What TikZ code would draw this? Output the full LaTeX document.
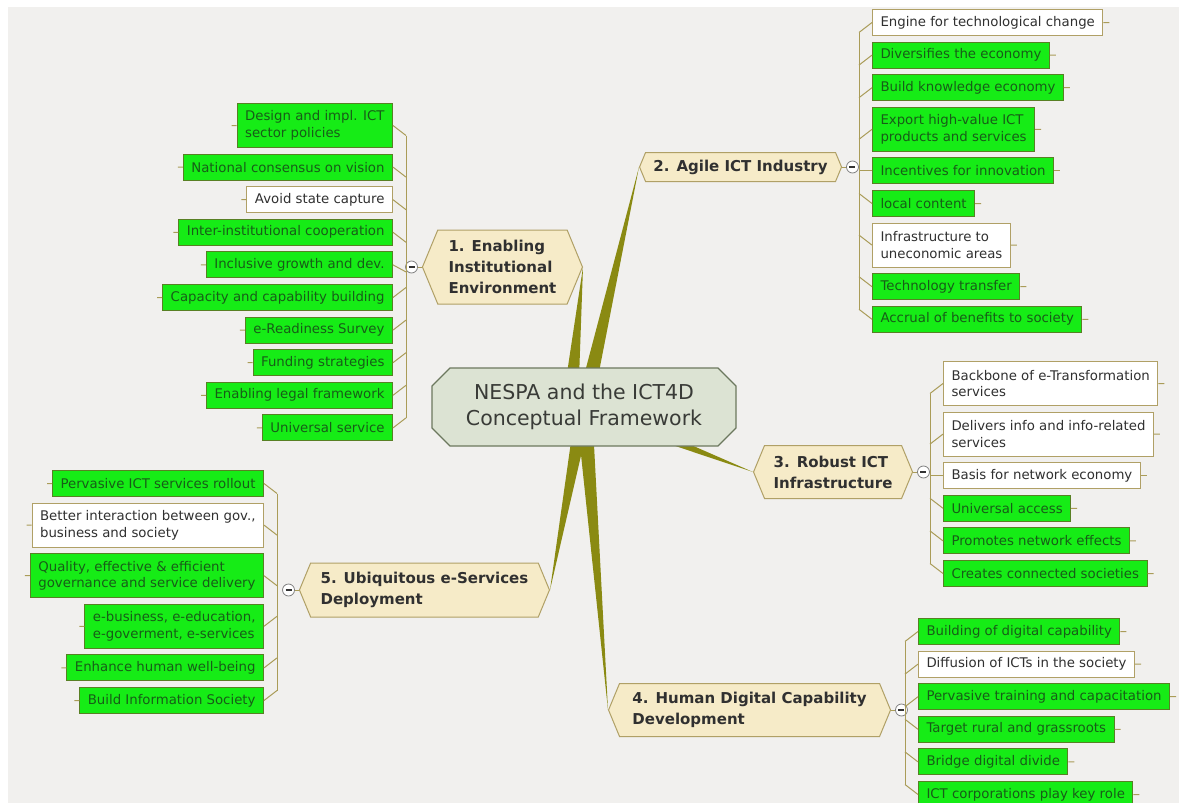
\documentclass[tikz,border=0pt]{standalone}
\usepackage{fontspec}
\setmainfont{DejaVu Sans}
\usetikzlibrary{positioning,calc,shapes.misc,shapes.symbols,backgrounds}
\definecolor{paper}{RGB}{241,240,238}
\definecolor{limefill}{RGB}{22,236,22}
\definecolor{limedraw}{RGB}{88,128,36}
\definecolor{limetext}{RGB}{24,92,24}
\definecolor{tanfill}{RGB}{246,235,200}
\definecolor{tandraw}{RGB}{176,160,102}
\definecolor{sagefill}{RGB}{220,227,211}
\definecolor{sagedraw}{RGB}{108,120,94}
\definecolor{trunkolive}{RGB}{138,138,18}
\definecolor{twigcol}{RGB}{170,156,88}
\definecolor{inkgray}{RGB}{48,48,48}

\begin{document}
\begin{tikzpicture}[x=1pt, y=-1pt, style={
    rootstyle/.style={
      chamfered rectangle,
      chamfered rectangle xsep=9pt,
      chamfered rectangle ysep=9pt,
      minimum width=304pt, minimum height=78pt,
      fill=sagefill, draw=sagedraw, line width=1.2pt,
      text=inkgray!85!sagedraw, align=center,
      font=\fontsize{20.5}{26}\selectfont,
    },
    topicstyle/.style={
      signal, signal to=west and east,
      signal pointer angle=135,
      inner xsep=4pt,
      fill=tanfill, draw=tandraw, line width=1pt,
      text=inkgray, align=left,
      font=\fontsize{15}{21}\selectfont\bfseries,
    },
    leafstyle/.style={
      rectangle, line width=1pt,
      inner xsep=8pt, inner ysep=0pt,
      minimum height=26pt, align=left,
      font=\fontsize{13.3}{16.5}\selectfont,
    },
    greenleaf/.style={
      leafstyle,
      fill=limefill, draw=limedraw, text=limetext,
    },
    whiteleaf/.style={
      leafstyle,
      fill=white, draw=tandraw, text=inkgray,
    },
    twoline/.style={minimum height=44pt},
    knobstyle/.style={
      circle, minimum size=12pt, inner sep=0pt,
      fill=white, draw=gray, line width=0.8pt,
      path picture={
        \draw[gray!40!black, line width=1.3pt]
          ([xshift=-3pt]path picture bounding box.center)
          -- ([xshift=3pt]path picture bounding box.center);
      },
    },
    mytwig/.style={draw=twigcol, line width=1pt},
    mytrunk/.style={fill=trunkolive},
  }]
  \useasboundingbox (0,0) rectangle (1179,803);

  % centre and main topics
  \node[rootstyle] (root) at (584,407) {NESPA and the ICT4D\\Conceptual Framework};
  \node[topicstyle, minimum width=160pt, minimum height=74pt, anchor=east] (enabling)
    at (583,267) {1. Enabling\\Institutional\\Environment};
  \node[topicstyle, minimum width=202pt, minimum height=29pt, anchor=west] (agile)
    at (639,167) {2. Agile ICT Industry};
  \node[topicstyle, minimum width=159pt, minimum height=53pt, anchor=west] (robust)
    at (753,472) {3. Robust ICT\\Infrastructure};
  \node[topicstyle, minimum width=282pt, minimum height=53pt, anchor=west] (human)
    at (608,710) {4. Human Digital Capability\\Development};
  \node[topicstyle, minimum width=250pt, minimum height=54pt, anchor=east] (ubiq)
    at (550,590) {5. Ubiquitous e-Services\\Deployment};

  \node[knobstyle, left=4pt of enabling] (ke) {};
  \node[knobstyle, right=4pt of agile] (ka) {};
  \node[knobstyle, right=4pt of robust] (kr) {};
  \node[knobstyle, right=4pt of human] (kh) {};
  \node[knobstyle, left=4pt of ubiq] (ku) {};

  % 1. Enabling Institutional Environment
  \node[greenleaf, twoline, anchor=north east] (e1) at (393,103) {Design and impl. ICT\\sector policies};
  \node[greenleaf, below=5.6pt of e1.south east, anchor=north east] (e2) {National consensus on vision};
  \node[whiteleaf, below=5.6pt of e2.south east, anchor=north east] (e3) {Avoid state capture};
  \node[greenleaf, below=5.6pt of e3.south east, anchor=north east] (e4) {Inter-institutional cooperation};
  \node[greenleaf, below=5.6pt of e4.south east, anchor=north east] (e5) {Inclusive growth and dev.};
  \node[greenleaf, below=5.6pt of e5.south east, anchor=north east] (e6) {Capacity and capability building};
  \node[greenleaf, below=5.6pt of e6.south east, anchor=north east] (e7) {e-Readiness Survey};
  \node[greenleaf, below=5.6pt of e7.south east, anchor=north east] (e8) {Funding strategies};
  \node[greenleaf, below=5.6pt of e8.south east, anchor=north east] (e9) {Enabling legal framework};
  \node[greenleaf, below=5.6pt of e9.south east, anchor=north east] (e10) {Universal service};

  % 2. Agile ICT Industry
  \node[whiteleaf, anchor=north west] (a1) at (872,9) {Engine for technological change};
  \node[greenleaf, below=5.6pt of a1.south west, anchor=north west] (a2) {Diversifies the economy};
  \node[greenleaf, below=5.6pt of a2.south west, anchor=north west] (a3) {Build knowledge economy};
  \node[greenleaf, twoline, below=5.6pt of a3.south west, anchor=north west] (a4) {Export high-value ICT\\products and services};
  \node[greenleaf, below=5.6pt of a4.south west, anchor=north west] (a5) {Incentives for innovation};
  \node[greenleaf, below=5.6pt of a5.south west, anchor=north west] (a6) {local content};
  \node[whiteleaf, twoline, below=5.6pt of a6.south west, anchor=north west] (a7) {Infrastructure to\\uneconomic areas};
  \node[greenleaf, below=5.6pt of a7.south west, anchor=north west] (a8) {Technology transfer};
  \node[greenleaf, below=5.6pt of a8.south west, anchor=north west] (a9) {Accrual of benefits to society};

  % 3. Robust ICT Infrastructure
  \node[whiteleaf, twoline, anchor=north west] (r1) at (943,361) {Backbone of e-Transformation\\services};
  \node[whiteleaf, twoline, below=5.6pt of r1.south west, anchor=north west] (r2) {Delivers info and info-related\\services};
  \node[whiteleaf, below=5.6pt of r2.south west, anchor=north west] (r3) {Basis for network economy};
  \node[greenleaf, below=5.6pt of r3.south west, anchor=north west] (r4) {Universal access};
  \node[greenleaf, below=5.6pt of r4.south west, anchor=north west] (r5) {Promotes network effects};
  \node[greenleaf, below=5.6pt of r5.south west, anchor=north west] (r6) {Creates connected societies};

  % 4. Human Digital Capability Development
  \node[greenleaf, anchor=north west] (h1) at (918,618) {Building of digital capability};
  \node[whiteleaf, below=5.6pt of h1.south west, anchor=north west] (h2) {Diffusion of ICTs in the society};
  \node[greenleaf, below=5.6pt of h2.south west, anchor=north west] (h3) {Pervasive training and capacitation};
  \node[greenleaf, below=5.6pt of h3.south west, anchor=north west] (h4) {Target rural and grassroots};
  \node[greenleaf, below=5.6pt of h4.south west, anchor=north west] (h5) {Bridge digital divide};
  \node[greenleaf, below=5.6pt of h5.south west, anchor=north west] (h6) {ICT corporations play key role};

  % 5. Ubiquitous e-Services Deployment
  \node[greenleaf, anchor=north east] (u1) at (264,470) {Pervasive ICT services rollout};
  \node[whiteleaf, twoline, below=5.6pt of u1.south east, anchor=north east] (u2) {Better interaction between gov.,\\business and society};
  \node[greenleaf, twoline, below=5.6pt of u2.south east, anchor=north east] (u3) {Quality, effective \& efficient\\governance and service delivery};
  \node[greenleaf, twoline, below=5.6pt of u3.south east, anchor=north east] (u4) {e-business, e-education,\\e-goverment, e-services};
  \node[greenleaf, below=5.6pt of u4.south east, anchor=north east] (u5) {Enhance human well-being};
  \node[greenleaf, below=5.6pt of u5.south east, anchor=north east] (u6) {Build Information Society};

  % twigs from the leaves to the spines
  \foreach \n/\d in {e1/10,e2/10,e3/10,e4/10,e5/7,e6/-10,e7/-10,e8/-10,e9/-10,e10/-10,
                     u1/10,u2/10,u3/10,u4/-10,u5/-10,u6/-10}
    \draw[mytwig] (\n.west) -- ++(-5,0) (\n.east) -- ++(13,\d);
  \foreach \n/\d in {a1/10,a2/10,a3/10,a4/10,a5/0,a6/-10,a7/-10,a8/-10,a9/-10,
                     r1/10,r2/10,r3/0,r4/-10,r5/-10,r6/-10,
                     h1/10,h2/10,h3/10,h4/-10,h5/-10,h6/-10}
    \draw[mytwig] (\n.east) -- ++(6,0) (\n.west) -- ++(-13,\d);
  \draw[mytwig] ([shift={(13,10)}]e1.east) -- ([shift={(13,-10)}]e10.east);
  \draw[mytwig] ([shift={(13,10)}]u1.east) -- ([shift={(13,-10)}]u6.east);
  \draw[mytwig] ([shift={(-13,10)}]a1.west) -- ([shift={(-13,-10)}]a9.west);
  \draw[mytwig] ([shift={(-13,10)}]r1.west) -- ([shift={(-13,-10)}]r6.west);
  \draw[mytwig] ([shift={(-13,10)}]h1.west) -- ([shift={(-13,-10)}]h6.west);
  \draw[mytwig] (ke) -- (enabling.west);
  \draw[mytwig] (ka) -- (agile.east);
  \draw[mytwig] (kr) -- (robust.east);
  \draw[mytwig] (kh) -- (human.east);
  \draw[mytwig] (ku) -- (ubiq.west);

  \begin{scope}[on background layer]
    \fill[paper] (8,7) rectangle (1179,803);
    \coordinate (hub) at (584,407);
    \coordinate (hubl) at (570,407);
    \fill[mytrunk] ($(hubl)!8pt!90:(enabling.east)$) -- (enabling.east)
      -- ($(hubl)!8pt!-90:(enabling.east)$) -- cycle;
    \fill[mytrunk] ($(hub)!8pt!90:(agile.west)$) -- (agile.west)
      -- ($(hub)!8pt!-90:(agile.west)$) -- cycle;
    \fill[mytrunk] ($(hub)!8pt!90:(robust.west)$) -- (robust.west)
      -- ($(hub)!8pt!-90:(robust.west)$) -- cycle;
    \fill[mytrunk] ($(hub)!8pt!90:(human.west)$) -- (human.west)
      -- ($(hub)!8pt!-90:(human.west)$) -- cycle;
    \fill[mytrunk] ($(hub)!8pt!90:(ubiq.east)$) -- (ubiq.east)
      -- ($(hub)!8pt!-90:(ubiq.east)$) -- cycle;
  \end{scope}
\end{tikzpicture}
\end{document}
